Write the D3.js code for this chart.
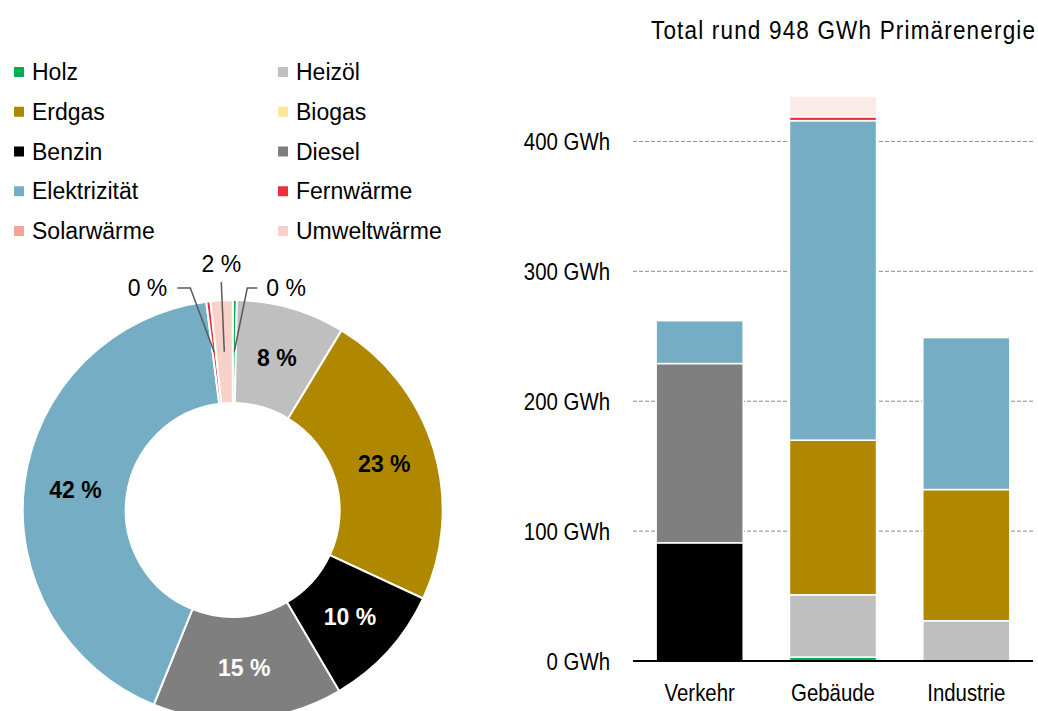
<!DOCTYPE html>
<html>
<head>
<meta charset="utf-8">
<script src="https://cdn.jsdelivr.net/npm/d3@7"></script>
<style>
  body { margin: 0; background: #fff; }
  svg { display: block; }
  .sans { font-family: "Liberation Sans", Arial, sans-serif; }
  .narrow { font-family: "Liberation Sans Narrow", "Arial Narrow", "Liberation Sans", sans-serif; }
</style>
</head>
<body>
<svg id="chart"></svg>
<script>
var width = 1038,
    height = 711,
    squeeze = 0.85; // fake a narrow face, no condensed font installed

// categories of the bar chart
var categories = ["Verkehr", "Gebäude", "Industrie"];

// energy carriers (legend order) and their colours
var carriers = ["Holz", "Heizöl", "Erdgas", "Biogas", "Benzin", "Diesel",
                "Elektrizität", "Fernwärme", "Solarwärme", "Umweltwärme"];
var colors = ["#00B050", "#BFBFBF", "#B08800", "#FFE699", "#000000", "#7F7F7F",
              "#75AEC4", "#E8313A", "#F4A594", "#F8D2C9"];

// GWh per category (Verkehr, Gebäude, Industrie)
var holz         = [0, 3, 0];
var heizoel      = [0, 48, 31];
var erdgas       = [0, 119, 101];
var biogas       = [0, 0, 0];
var benzin       = [91, 0, 0];
var diesel       = [138, 0, 0];
var elektrizitaet = [33, 246, 117];
var fernwaerme   = [0, 3, 0];
var solarwaerme  = [0, 0, 0];
var umweltwaerme = [0, 16, 0];

var yTicks = [0, 100, 200, 300, 400];
var title = "Total rund 948 GWh Primärenergie";

var series = [holz, heizoel, erdgas, biogas, benzin, diesel,
              elektrizitaet, fernwaerme, solarwaerme, umweltwaerme];

var color = d3.scaleOrdinal().domain(carriers).range(colors);
// the bar chart shows Umweltwärme paler than the donut
function barColor(key) {
  return key === "Umweltwärme" ? "#FCEAE6" : color(key);
}

var svg = d3.select("#chart").attr("width", width).attr("height", height);

function narrowAt(x, y, s) {
  return "translate(" + x + "," + y + ") scale(" + (s || squeeze) + ",1)";
}

// ---------- legend ----------
var legend = svg.append("g").attr("class", "sans");
var li = legend.selectAll("g").data(carriers).enter().append("g")
  .attr("transform", function(d, i) {
    var x = (i % 2 === 0) ? 14 : 278;
    var y = 72 + Math.floor(i / 2) * 39.75;
    return "translate(" + x + "," + y + ")";
  });
li.append("rect").attr("x", 0).attr("y", -5).attr("width", 10).attr("height", 10)
  .attr("fill", function(d) { return color(d); });
li.append("text").attr("x", 18).attr("y", 8)
  .attr("font-size", "23px").attr("fill", "#000")
  .text(function(d) { return d; });

// ---------- donut ----------
var totals = carriers.map(function(c, i) {
  return { key: c, value: d3.sum(series[i]) };
}).filter(function(d) { return d.value > 0; });
var grand = d3.sum(totals, function(d) { return d.value; });

var cx = 232.7, cy = 510, R = 210, r0 = 107;
var pie = d3.pie().sort(null).value(function(d) { return d.value; });
var arc = d3.arc().innerRadius(r0).outerRadius(R);
var arcs = pie(totals);

var donut = svg.append("g").attr("transform", "translate(" + cx + "," + cy + ")");
donut.selectAll("path").data(arcs).enter().append("path")
  .attr("d", arc)
  .attr("fill", function(d) { return color(d.data.key); })
  .attr("stroke", "#fff").attr("stroke-width", 2);

function pct(d) { return Math.round(d.data.value / grand * 100) + " %"; }

var whiteText = ["Benzin", "Diesel"];
donut.selectAll("text.inside").data(arcs.filter(function(d) { return d.data.value / grand >= 0.05; }))
  .enter().append("text").attr("class", "inside sans")
  .attr("transform", function(d) { return "translate(" + arc.centroid(d) + ")"; })
  .attr("text-anchor", "middle").attr("dy", "0.36em")
  .attr("font-size", "23px").attr("font-weight", "bold")
  .attr("fill", function(d) { return whiteText.indexOf(d.data.key) >= 0 ? "#fff" : "#000"; })
  .text(pct);

// small slices get labels outside with leader lines
var outside = { "Holz": "right", "Fernwärme": "left", "Umweltwärme": "up" };
var small = arcs.filter(function(d) { return outside[d.data.key]; });
var elbowY = -R - 12;
small.forEach(function(d) {
  var c = arc.centroid(d), side = outside[d.data.key];
  var pts, tx, ty, anchor;
  if (side === "left") {
    pts = [c, [c[0] - 24, elbowY], [c[0] - 37, elbowY]];
    tx = c[0] - 47; ty = elbowY + 8; anchor = "end";
  } else if (side === "right") {
    pts = [c, [c[0] + 13, elbowY], [c[0] + 23, elbowY]];
    tx = c[0] + 32; ty = elbowY + 8; anchor = "start";
  } else {
    pts = [c, [c[0] - 3, elbowY - 6]];
    tx = c[0] - 3; ty = elbowY - 16; anchor = "middle";
  }
  donut.append("path").attr("d", d3.line()(pts))
    .attr("fill", "none").attr("stroke", "#595959").attr("stroke-width", 1.5);
  donut.append("text").attr("class", "sans")
    .attr("x", tx).attr("y", ty).attr("text-anchor", anchor)
    .attr("font-size", "23px").attr("fill", "#000")
    .text(pct(d));
});

// ---------- stacked bars ----------
var table = categories.map(function(cat, j) {
  var row = { category: cat };
  carriers.forEach(function(c, i) { row[c] = series[i][j]; });
  return row;
});
var stack = d3.stack().keys(carriers)(table);

var x = d3.scaleBand().domain(categories).range([633, 1033])
  .paddingInner(0.347).paddingOuter(0.1735);
var y = d3.scaleLinear().domain([0, 450]).range([661, 76.5]);

var grid = svg.append("g");
grid.selectAll("line").data(yTicks.filter(function(t) { return t > 0; })).enter().append("line")
  .attr("x1", 633).attr("x2", 1033)
  .attr("y1", function(d) { return y(d); }).attr("y2", function(d) { return y(d); })
  .attr("stroke", "#8C8C8C").attr("stroke-width", 1).attr("stroke-dasharray", "4,2");

svg.append("g").attr("class", "narrow").selectAll("text").data(yTicks).enter().append("text")
  .attr("transform", function(d) { return narrowAt(610, y(d) + 8.5); })
  .attr("text-anchor", "end").attr("font-size", "24px").attr("fill", "#000")
  .text(function(d) { return d + " GWh"; });

var layers = svg.append("g").selectAll("g").data(stack).enter().append("g")
  .attr("fill", function(d) { return barColor(d.key); });
layers.selectAll("rect").data(function(d) { return d.filter(function(s) { return s[1] - s[0] > 0; }); })
  .enter().append("rect")
  .attr("x", function(d) { return x(d.data.category); })
  .attr("width", x.bandwidth())
  .attr("y", function(d) { return y(d[1]); })
  .attr("height", function(d) { return y(d[0]) - y(d[1]); })
  .attr("stroke", "#fff").attr("stroke-width", 1.5);

svg.append("line").attr("x1", 633).attr("x2", 1033)
  .attr("y1", y(0)).attr("y2", y(0))
  .attr("stroke", "#000").attr("stroke-width", 1.8);

svg.append("g").attr("class", "narrow").selectAll("text").data(categories).enter().append("text")
  .attr("transform", function(d) { return narrowAt(x(d) + x.bandwidth() / 2, 701); })
  .attr("text-anchor", "middle").attr("font-size", "24px").attr("fill", "#000")
  .text(function(d) { return d; });

svg.append("text").attr("class", "narrow")
  .attr("transform", narrowAt(1035, 39, 0.9))
  .attr("text-anchor", "end")
  .attr("font-size", "25px").attr("fill", "#000")
  .attr("textLength", 384 / 0.9).attr("lengthAdjust", "spacing")
  .text(title);
</script>
</body>
</html>
